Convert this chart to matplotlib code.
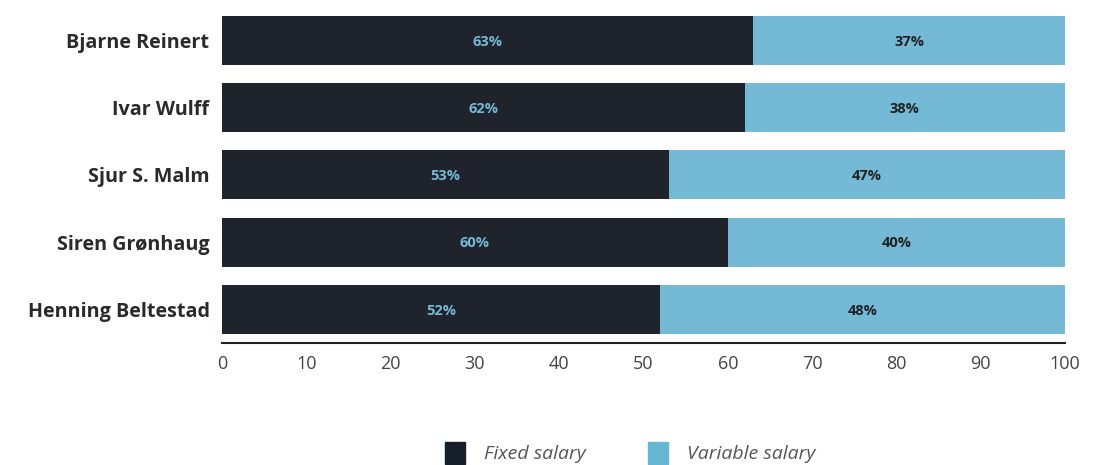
import numpy as np
import matplotlib.pyplot as plt
from matplotlib.patches import Patch

# Data
names = ["Bjarne Reinert", "Ivar Wulff", "Sjur S. Malm", "Siren Grønhaug", "Henning Beltestad"]
fixed = [63, 62, 53, 60, 52]
variable = [37, 38, 47, 40, 48]
xticks = [0, 10, 20, 30, 40, 50, 60, 70, 80, 90, 100]

dark = "#1f232b"
light = "#74b9d6"

plt.rcParams['font.family'] = ['Open Sans', 'DejaVu Sans']

fig = plt.figure(figsize=(11.1, 4.65), dpi=100)
ax = fig.add_axes([0.2, 0.2624, 0.7595, 0.7229])

y = np.arange(len(names))
ax.barh(y, fixed, height=0.73, color=dark)
ax.barh(y, variable, left=fixed, height=0.73, color=light)

# Percent labels inside the bars
for i in range(len(names)):
    ax.text(fixed[i] / 2, y[i] + 0.02, f"{fixed[i]}%", ha="center", va="center",
            color=light, fontsize=10.5, fontweight="bold")
    ax.text(fixed[i] + variable[i] / 2, y[i] + 0.02, f"{variable[i]}%", ha="center",
            va="center", color="#222222", fontsize=10.5, fontweight="bold")

ax.set_xlim(0, 100)
ax.set_ylim(len(names) - 0.5, -0.5)
ax.set_yticks(y)
ax.set_yticklabels(names, fontsize=14.2, fontweight="bold", color="#2a2a2a")
ax.set_xticks(xticks)
ax.set_xticklabels([str(t) for t in xticks], fontsize=13, color="#444444")
ax.tick_params(axis="both", length=0)
ax.tick_params(axis="x", pad=9)
ax.tick_params(axis="y", pad=9)

for s in ["top", "right", "left"]:
    ax.spines[s].set_visible(False)
ax.spines["bottom"].set_color("#222222")
ax.spines["bottom"].set_linewidth(1.5)

handles = [Patch(color="#151e29", label="Fixed salary"),
           Patch(color="#66b5d1", label="Variable salary")]
leg = fig.legend(handles=handles, loc="center", bbox_to_anchor=(0.568, 0.026),
                 ncol=2, frameon=False, handlelength=1.0, handleheight=1.4,
                 columnspacing=3.2, handletextpad=1.0,
                 prop={"size": 14, "style": "italic"})
for t in leg.get_texts():
    t.set_color("#555555")

fig.savefig("out.png", dpi=100)
